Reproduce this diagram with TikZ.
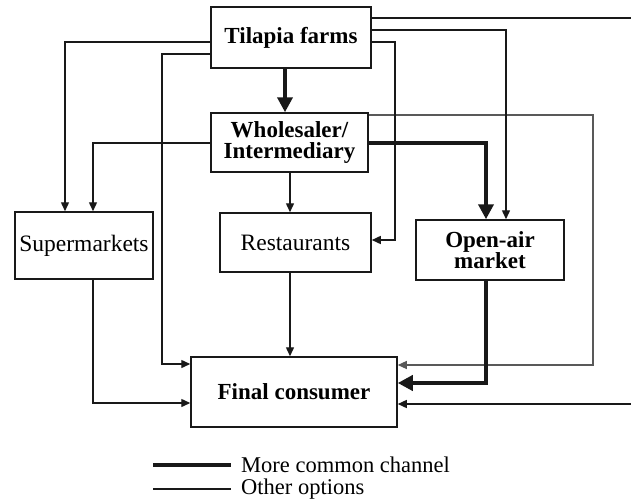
\documentclass[tikz,border=0pt]{standalone}
\usepackage{fontspec}
\setmainfont{Liberation Serif}
\usetikzlibrary{arrows.meta}
\begin{document}
\begin{tikzpicture}[x=1pt,y=-1pt,
  box/.style={draw=black!90,line width=1.5pt,inner sep=0pt,align=center,
    font=\fontsize{23.5}{21}\selectfont},
  bbox/.style={box,font=\fontsize{23}{21}\selectfont\bfseries},
  thinln/.style={draw=black!90,line width=1.4pt,-{Triangle[length=9pt,width=8pt]}},
  greyln/.style={draw=black!65,line width=1.1pt,-{Triangle[length=9pt,width=8pt]}},
  thickln/.style={draw=black!90,line width=4pt,-{Triangle[length=15pt,width=15pt]}},
  lgd/.style={inner sep=0pt,anchor=west,font=\fontsize{22.5}{22}\selectfont}]
\useasboundingbox (0,0) rectangle (631,498);
% boxes
\node[bbox,minimum width=160pt,minimum height=61pt] (tf) at (291,37.5) {Tilapia farms};
\node[bbox,minimum width=157pt,minimum height=59pt] (ws) at (289.5,142.5) {Wholesaler/\\Intermediary};
\node[box,minimum width=138pt,minimum height=67pt] (sm) at (84,245.5) {Supermarkets};
\node[box,minimum width=151pt,minimum height=59pt] (rs) at (295.5,242.5) {Restaurants};
\node[bbox,minimum width=148pt,minimum height=60pt] (oa) at (490,250) {Open-air\\market};
\node[bbox,minimum width=206pt,minimum height=70pt] (fc) at (294,392) {Final consumer};
% free ends
\coordinate (edgeA) at (631,18);
\coordinate (edgeB) at (631,404);
% connectors
\draw[thinln] (tf.west |- 0,42) -| (sm.north -| 65,0);
\draw[thinln] (tf.west |- 0,54) -| (162,364) -- (fc.west |- 0,364);
\draw[thickln] (tf.south -| 285,0) -- (ws.north -| 285,0);
\draw[thinln] (ws.west |- 0,143) -| (sm.north -| 93,0);
\draw[thinln] (ws.south -| 290,0) -- (rs.north -| 290,0);
\draw[thickln] (ws.east |- 0,143) -| (oa.north -| 486,0);
\draw[greyln] (ws.east |- 0,115) -| (593,365) -- (fc.east |- 0,365);
\draw[thinln,-] (tf.east |- 0,18) -- (edgeA);
\draw[thinln] (tf.east |- 0,30) -| (oa.north -| 506,0);
\draw[thinln] (tf.east |- 0,42) -| (395,240) -- (rs.east |- 0,240);
\draw[thinln] (rs.south -| 290,0) -- (fc.north -| 290,0);
\draw[thinln] (sm.south -| 93,0) |- (fc.west |- 0,403);
\draw[thickln] (oa.south -| 486,0) |- (fc.east |- 0,383);
\draw[thinln] (edgeB) -- (fc.east |- 0,404);
% legend
\node[lgd] (l1) at (241,465) {More common channel};
\node[lgd] (l2) at (241,489) {Other options};
\coordinate (l1s) at (153,465);
\coordinate (l2s) at (153,489);
\draw[draw=black!90,line width=4.5pt] (l1s) -- (l1.west -| 231,0);
\draw[draw=black!90,line width=1.4pt] (l2s) -- (l2.west -| 231,0);
\end{tikzpicture}
\end{document}
